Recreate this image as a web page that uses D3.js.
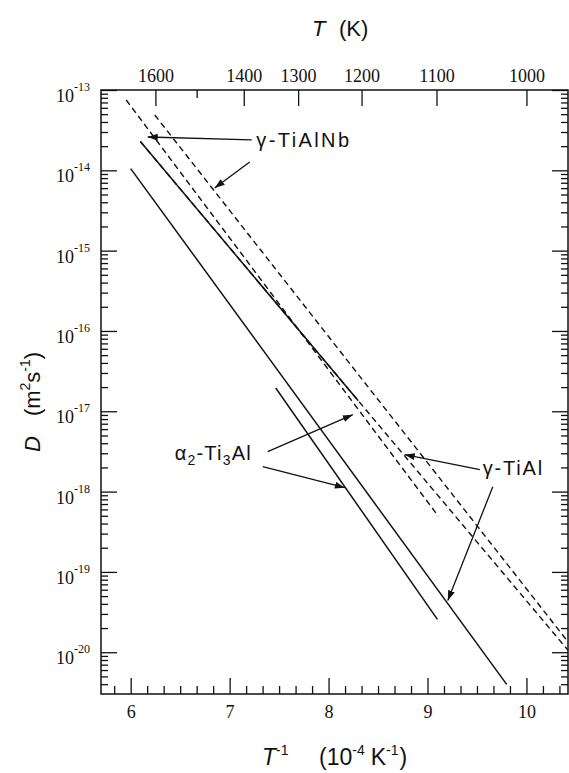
<!DOCTYPE html>
<html><head><meta charset="utf-8">
<script src="https://cdn.jsdelivr.net/npm/d3@7"></script>
<style>body{margin:0;background:#fff}svg{display:block}</style>
</head><body><svg id="c" width="569" height="773"></svg>
<script>
// ---- data ----
const xTickValues = [6, 7, 8, 9, 10];
const tempTickValues = [1600, 1500, 1400, 1300, 1200, 1100, 1000];
const tempLabeled = [1600, 1400, 1300, 1200, 1100, 1000];
const yDecadeExponents = [-20, -19, -18, -17, -16, -15, -14, -13];

// lines: [1e4/T, D (m^2/s)]
const gammaTiAlSolid   = [[6.0, 1.05e-14], [9.80, 3.98e-21]];
const alpha2Solid      = [[7.466, 1.95e-17], [9.10, 2.57e-20]];
const gammaTiAlNbSolid = [[6.098, 2.28e-14], [8.3, 1.35e-17]];
const gammaTiAlDashed  = [[6.098, 2.28e-14], [10.42, 1.06e-20]];
const alpha2Dashed     = [[5.955, 7.5e-14], [9.11, 4.93e-19]];
const gammaTiAlNbDashed= [[6.243, 4.89e-14], [10.42, 1.35e-20]];

const labelNb  = {x: 7.27, D: 1.95e-14};
const labelA2  = {x: 6.445, D: 2.45e-18};
const labelG   = {x: 9.559, D: 1.62e-18};
const arrowsNb = [[[7.223, 2.39e-14], [6.172, 2.60e-14]], [[7.203, 1.27e-14], [6.849, 6.04e-15]]];
const arrowsA2 = [[[7.385, 3.15e-18], [8.245, 9.08e-18]], [[7.335, 2.05e-18], [8.164, 1.12e-18]]];
const arrowsG  = [[[9.529, 1.88e-18], [8.770, 2.88e-18]], [[9.660, 1.15e-18], [9.205, 4.41e-20]]];

// ---- layout ----
const L = 101, R = 568, T = 90, B = 694;
const svg = d3.select("#c");
const x = d3.scaleLinear().domain([5.7, 10.42]).range([L, R]);
const y = d3.scaleLog().domain([Math.pow(10, -20.52), 1e-13]).range([B, T]);
const serif = "'Liberation Serif','Times New Roman',serif";
const sans = "'Liberation Sans',Arial,Helvetica,sans-serif";
const ink = "#111";

// minor ticks
const xMinor = [];
for (let k = Math.ceil(5.7 * 6); k <= Math.floor(10.42 * 6); k++) { if (k % 6 !== 0) xMinor.push(k / 6); }
const yMinor = [];
for (let e = -21; e <= -14; e++) for (let m = 2; m <= 9; m++) { const v = m * Math.pow(10, e); if (v > y.domain()[0] && v < 1e-13) yMinor.push(v); }
const yMajor = yDecadeExponents.map(e => Math.pow(10, e));

function styleAxis(g) {
  g.select(".domain").remove();
  g.selectAll("line").attr("stroke", ink).attr("stroke-width", 1.3);
  g.selectAll("text").attr("font-family", serif).attr("font-size", 18).attr("fill", ink);
}
// bottom
svg.append("g").attr("transform", `translate(0,${B})`)
  .call(d3.axisBottom(x).tickValues(xMinor).tickSizeInner(-8).tickSizeOuter(0).tickFormat("")).call(styleAxis);
svg.append("g").attr("transform", `translate(0,${B})`)
  .call(d3.axisBottom(x).tickValues(xTickValues).tickSizeInner(-16).tickSizeOuter(0).tickPadding(11).tickFormat(d3.format("d"))).call(styleAxis);
// top (temperature)
svg.append("g").attr("transform", `translate(0,${T})`)
  .call(d3.axisTop(x).tickValues(tempTickValues.filter(t => !tempLabeled.includes(t)).map(t => 1e4 / t)).tickSizeInner(-8).tickSizeOuter(0).tickFormat("")).call(styleAxis);
svg.append("g").attr("transform", `translate(0,${T})`)
  .call(d3.axisTop(x).tickValues(tempLabeled.map(t => 1e4 / t)).tickSizeInner(-16).tickSizeOuter(0).tickPadding(8)
    .tickFormat(v => d3.format("d")(Math.round(1e4 / v)))).call(styleAxis);
// left
svg.append("g").attr("transform", `translate(${L},0)`)
  .call(d3.axisLeft(y).tickValues(yMinor).tickSizeInner(-7).tickSizeOuter(0).tickFormat("")).call(styleAxis);
svg.append("g").attr("transform", `translate(${L},0)`)
  .call(d3.axisLeft(y).tickValues(yMajor).tickSizeInner(-16).tickSizeOuter(0).tickFormat("")).call(styleAxis);
// right
svg.append("g").attr("transform", `translate(${R},0)`)
  .call(d3.axisRight(y).tickValues(yMinor).tickSizeInner(-7).tickSizeOuter(0).tickFormat("")).call(styleAxis);
svg.append("g").attr("transform", `translate(${R},0)`)
  .call(d3.axisRight(y).tickValues(yMajor).tickSizeInner(-16).tickSizeOuter(0).tickFormat("")).call(styleAxis);

// frame
svg.append("rect").attr("x", L).attr("y", T).attr("width", R - L).attr("height", B - T)
  .attr("fill", "none").attr("stroke", ink).attr("stroke-width", 1.5);

// y tick labels 10^n
yDecadeExponents.forEach(e => {
  const t = svg.append("text").attr("x", 90).attr("y", y(Math.pow(10, e)) + 12)
    .attr("text-anchor", "end").attr("font-family", serif).attr("fill", ink);
  t.append("tspan").attr("font-size", 18).text("10");
  t.append("tspan").attr("font-size", 12).attr("dy", -11).text("-" + Math.abs(e));
});

// data lines
const line = d3.line().x(d => x(d[0])).y(d => y(d[1]));
const plot = svg.append("g");
[gammaTiAlSolid, alpha2Solid, gammaTiAlNbSolid].forEach(s =>
  plot.append("path").attr("d", line(s)).attr("fill", "none").attr("stroke", ink).attr("stroke-width", 1.5));
[gammaTiAlDashed, alpha2Dashed, gammaTiAlNbDashed].forEach(s =>
  plot.append("path").attr("d", line(s)).attr("fill", "none").attr("stroke", ink).attr("stroke-width", 1.4).attr("stroke-dasharray", "6,4"));

// arrows
const defs = svg.append("defs");
defs.append("marker").attr("id", "ah").attr("markerUnits", "userSpaceOnUse")
  .attr("markerWidth", 11).attr("markerHeight", 8).attr("refX", 10).attr("refY", 3.5).attr("orient", "auto")
  .append("path").attr("d", "M0,0 L10,3.5 L0,7 Z").attr("fill", ink);
[...arrowsNb, ...arrowsA2, ...arrowsG].forEach(a =>
  svg.append("line").attr("x1", x(a[0][0])).attr("y1", y(a[0][1])).attr("x2", x(a[1][0])).attr("y2", y(a[1][1]))
    .attr("stroke", ink).attr("stroke-width", 1.3).attr("marker-end", "url(#ah)"));

// labels
function lab(p) {
  return svg.append("text").attr("x", x(p.x)).attr("y", y(p.D)).attr("font-family", sans).attr("font-size", 20).attr("fill", ink);
}
lab(labelNb).attr("letter-spacing", 2.4).text("γ-TiAlNb");
lab(labelG).attr("letter-spacing", 1.8).text("γ-TiAl");
const ta = lab(labelA2).attr("letter-spacing", 1.2);
ta.append("tspan").text("α");
ta.append("tspan").attr("font-size", 14).attr("dy", 5).text("2");
ta.append("tspan").attr("dy", -5).text("-Ti");
ta.append("tspan").attr("font-size", 14).attr("dy", 5).text("3");
ta.append("tspan").attr("dy", -5).text("Al");

// axis titles
const tt = svg.append("text").attr("y", 36).attr("font-family", sans).attr("font-size", 22).attr("fill", ink);
tt.append("tspan").attr("x", 312).attr("font-style", "italic").text("T");
tt.append("tspan").attr("x", 339).text("(K)");

const bt = svg.append("text").attr("y", 765).attr("font-family", sans).attr("font-size", 23).attr("fill", ink);
bt.append("tspan").attr("x", 262).attr("font-style", "italic").text("T");
bt.append("tspan").attr("font-size", 14).attr("dy", -10).text("-1");
bt.append("tspan").attr("x", 319).attr("dy", 10).text("(10");
bt.append("tspan").attr("font-size", 14).attr("dy", -10).text("-4");
bt.append("tspan").attr("dy", 10).attr("dx", 6).text("K");
bt.append("tspan").attr("font-size", 14).attr("dy", -10).text("-1");
bt.append("tspan").attr("dy", 10).attr("dx", 1).text(")");

const lt = svg.append("text").attr("transform", "translate(40,452) rotate(-90)").attr("font-family", sans).attr("font-size", 22).attr("fill", ink);
lt.append("tspan").attr("font-style", "italic").text("D");
lt.append("tspan").attr("dx", 20).text("(m");
lt.append("tspan").attr("font-size", 14).attr("dy", -10).text("2");
lt.append("tspan").attr("dy", 10).text("s");
lt.append("tspan").attr("font-size", 14).attr("dy", -10).text("-1");
lt.append("tspan").attr("dy", 10).text(")");
</script></body></html>
